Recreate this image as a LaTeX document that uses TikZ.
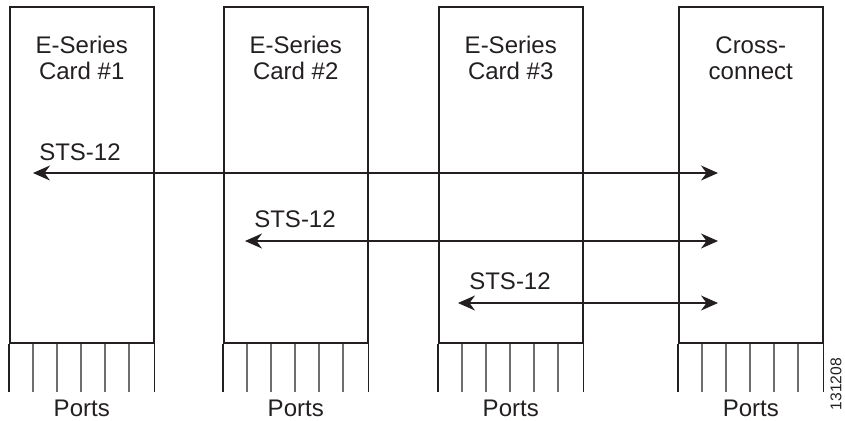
\documentclass[tikz,border=0pt]{standalone}
\usepackage{fontspec}
\setmainfont{Liberation Sans}
\usepackage{xcolor}
\usetikzlibrary{arrows.meta,calc,positioning}
\definecolor{Ink}{HTML}{231F20}
\definecolor{PortLine}{HTML}{6E6E6E}
\tikzset{
  card/.style={draw=Ink,line width=0.75pt,minimum width=72pt,minimum height=168pt,
    inner sep=0pt,anchor=north west},
  cardtitle/.style={align=center,font=\fontsize{12}{13}\selectfont,text=Ink,inner sep=0pt},
  portlbl/.style={anchor=base,font=\fontsize{12}{13}\selectfont,text=Ink,inner sep=0pt},
  stslbl/.style={anchor=base,font=\fontsize{12}{13}\selectfont,text=Ink,inner sep=0pt},
  link/.style={<->,draw=Ink,line width=0.75pt}
}

\begin{document}
\begin{tikzpicture}[x=0.5pt,y=-0.5pt,>={Stealth[length=8.5pt,width=7.5pt]}]
  \useasboundingbox (0,0) rectangle (845,420);
  \foreach \n/\x/\t in {1/9/{E-Series\\Card \#1}, 2/223/{E-Series\\Card \#2},
    3/438/{E-Series\\Card \#3}, 4/678/{Cross-\\connect}}
  {
    \node[card] (card\n) at (\x,6) {};
    \node[cardtitle] (title\n) at ($(card\n.north)+(0,52)$) {\t};
    \draw[Ink,line width=0.75pt] (card\n.south west) -- ++(0,48);
    \draw[Ink,line width=0.75pt] (card\n.south east) -- ++(0,48);
    \foreach \k in {1,...,5}
    {
      \draw[PortLine,line width=0.75pt] ($(card\n.south west)+(\k*24,0)$) -- ++(0,48);
    }
    \node[portlbl] (ports\n) at ($(card\n.south)+(0,73)$) {Ports};
  }
  \coordinate (west1) at (33,173);
  \coordinate (east1) at (718,173);
  \coordinate (west2) at (245,241);
  \coordinate (east2) at (718,241);
  \coordinate (west3) at (458,303);
  \coordinate (east3) at (718,303);
  \draw[link] (west1) -- (east1);
  \draw[link] (west2) -- (east2);
  \draw[link] (west3) -- (east3);
  \node[stslbl] (sts1) at (80,160) {STS-12};
  \node[stslbl] (sts2) at (295,227) {STS-12};
  \node[stslbl] (sts3) at (510,289) {STS-12};
  \node[rotate=90,font=\fontsize{7.8}{8}\selectfont,text=Ink,inner sep=0pt] (figid) at (836,384) {131208};
\end{tikzpicture}
\end{document}
